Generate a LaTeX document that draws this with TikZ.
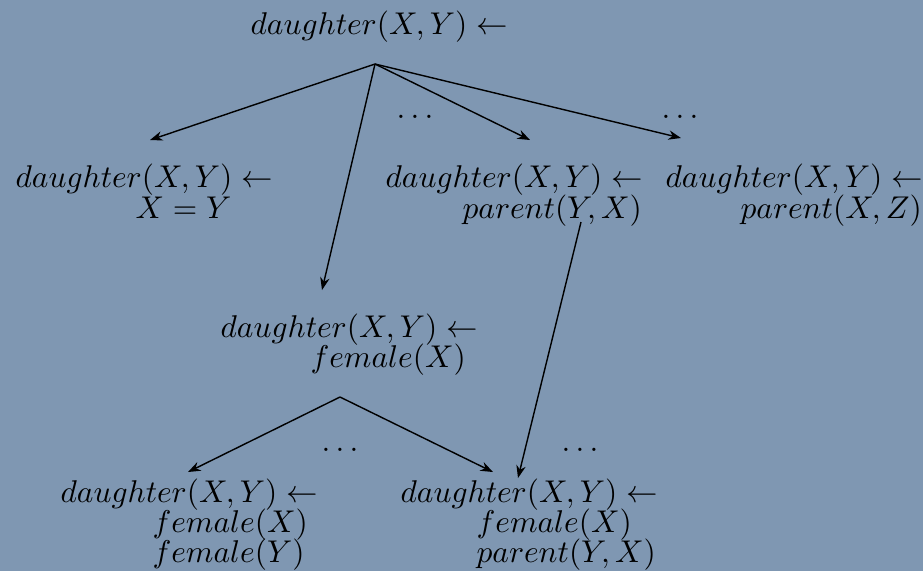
\documentclass[tikz,border=0pt]{standalone}
\usetikzlibrary{arrows.meta}
\definecolor{bgc}{RGB}{127,151,178}
\begin{document}
\begin{tikzpicture}[x=0.318pt,y=-0.318pt,
  txt/.style={inner sep=0pt,anchor=base west},
  dts/.style={inner sep=0pt,anchor=base},
  arr/.style={-{Stealth[length=4pt,width=3pt]},line width=0.45pt}]
\fill[bgc] (0,0) rectangle (923,571);
\useasboundingbox (0,0) rectangle (923,571);
% top
\node[txt] (top) at (250,34) {$daughter(X,Y)\leftarrow$};
\coordinate (r) at (375,64);
% row 1
\node[txt] (a1) at (15,187) {$daughter(X,Y)\leftarrow$};
\node[txt] (a2) at (135,218) {$X=Y$};
\node[txt] (b1) at (385,187) {$daughter(X,Y)\leftarrow$};
\node[txt] (b2) at (462,218) {$parent(Y,X)$};
\node[txt] (c1) at (665,187) {$daughter(X,Y)\leftarrow$};
\node[txt] (c2) at (740,218) {$parent(X,Z)$};
% middle
\node[txt] (m1) at (220,337) {$daughter(X,Y)\leftarrow$};
\node[txt] (m2) at (310,367) {$female(X)$};
\coordinate (mr) at (340,397);
% bottom
\node[txt] (d1) at (60,502) {$daughter(X,Y)\leftarrow$};
\node[txt] (d2) at (152,532) {$female(X)$};
\node[txt] (d3) at (152,562) {$female(Y)$};
\node[txt] (e1) at (400,502) {$daughter(X,Y)\leftarrow$};
\node[txt] (e2) at (476,532) {$female(X)$};
\node[txt] (e3) at (476,562) {$parent(Y,X)$};
% dots
\node[dts] (o1) at (415,118) {$\ldots$};
\node[dts] (o2) at (680,118) {$\ldots$};
\node[dts] (o3) at (340,451) {$\ldots$};
\node[dts] (o4) at (580,451) {$\ldots$};
% arrows
\coordinate (ta1) at (150,140);
\coordinate (tm1) at (322,290);
\coordinate (tb1) at (530,140);
\coordinate (tc1) at (681,138);
\coordinate (sb2) at (581,222);
\coordinate (te1) at (518,478);
\coordinate (td1) at (188,472);
\coordinate (te1b) at (493,472);
\draw[arr] (r) -- (ta1);
\draw[arr] (r) -- (tm1);
\draw[arr] (r) -- (tb1);
\draw[arr] (r) -- (tc1);
\draw[arr] (sb2) -- (te1);
\draw[arr] (mr) -- (td1);
\draw[arr] (mr) -- (te1b);
\end{tikzpicture}
\end{document}
